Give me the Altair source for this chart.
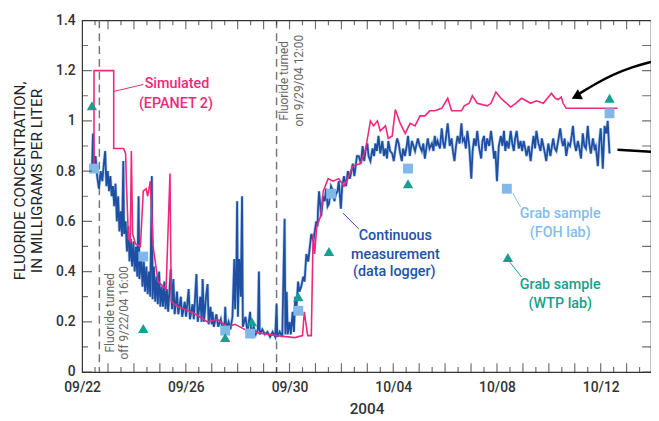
import altair as alt
import pandas as pd

FONT = "Roboto"

# ---- data (days since 2004-09-22 00:00, fluoride mg/L) ----
cont_day = [0.38,0.42,0.46,0.52,0.58,0.65,0.72,0.78,0.84,0.89,0.94,0.99,1.04,1.09,1.14,1.19,1.24,1.29,1.34,1.39,1.44,1.49,1.54,1.59,1.62,1.68,1.73,1.78,1.83,1.88,1.93,1.98,2.03,2.08,2.13,2.18,2.21,2.28,2.33,2.38,2.43,2.48,2.53,2.58,2.63,2.69,2.72,2.77,2.82,2.87,2.92,2.97,3.02,3.07,3.12,3.17,3.22,3.27,3.32,3.42,3.47,3.52,3.57,3.66,3.71,3.81,3.86,3.96,4.01,4.11,4.16,4.26,4.31,4.41,4.46,4.56,4.61,4.65,4.70,4.78,4.84,4.88,4.95,5.00,5.03,5.08,5.18,5.25,5.35,5.42,5.50,5.52,5.56,5.65,5.72,5.80,5.87,5.90,5.95,5.98,6.01,6.06,6.12,6.17,6.20,6.30,6.38,6.48,6.52,6.62,6.70,6.78,6.82,6.85,6.95,7.05,7.15,7.25,7.35,7.45,7.50,7.53,7.62,7.72,7.81,7.84,7.89,7.93,8.00,8.05,8.12,8.17,8.22,8.27,8.33,8.38,8.45,8.53,8.58,8.65,8.72,8.84,8.92,9.03,9.08,9.10,9.14,9.22,9.30,9.36,9.41,9.47,9.52,9.60,9.68,9.73,9.79,9.85,9.90,9.98,10.03,10.10,10.18,10.25,10.33,10.44,10.50,10.55,10.60,10.67,10.75,10.82,10.88,10.93,11.00,11.05,11.12,11.20,11.26,11.31,11.37,11.43,11.50,11.58,11.64,11.70,11.76,11.81,11.88,11.96,12.02,12.10,12.15,12.21,12.27,12.33,12.38,12.45,12.52,12.57,12.64,12.72,12.78,12.84,12.95,13.02,13.10,13.16,13.22,13.33,13.40,13.49,13.55,13.60,13.66,13.71,13.80,13.87,13.93,13.98,14.04,14.10,14.18,14.25,14.30,14.36,14.42,14.48,14.56,14.63,14.68,14.74,14.80,14.86,14.93,15.01,15.06,15.12,15.18,15.24,15.30,15.39,15.44,15.50,15.56,15.62,15.70,15.77,15.83,15.89,15.94,16.00,16.07,16.15,16.21,16.27,16.32,16.38,16.45,16.53,16.59,16.65,16.70,16.76,16.84,16.91,16.97,17.03,17.09,17.14,17.22,17.30,17.36,17.41,17.47,17.52,17.60,17.68,17.73,17.79,17.85,17.90,17.98,18.06,18.12,18.17,18.23,18.29,18.36,18.44,18.50,18.55,18.61,18.67,18.75,18.82,18.88,18.93,18.99,19.05,19.12,19.18,19.24,19.31,19.37,19.43,19.50,19.56,19.62,19.70,19.76,19.81,19.89,19.95,20.00,20.04,20.08,20.15,20.22,20.27,20.34]
cont_val = [0.80,0.95,0.82,0.86,0.78,0.73,0.80,0.76,0.83,0.88,0.74,0.80,0.72,0.78,0.70,0.74,0.66,0.75,0.60,0.70,0.56,0.64,0.54,0.84,0.55,0.60,0.48,0.58,0.44,0.53,0.42,0.52,0.40,0.50,0.38,0.70,0.37,0.46,0.34,0.44,0.32,0.42,0.31,0.40,0.30,0.78,0.29,0.42,0.28,0.38,0.27,0.40,0.26,0.34,0.26,0.36,0.25,0.33,0.24,0.41,0.25,0.37,0.23,0.32,0.23,0.30,0.22,0.28,0.22,0.33,0.21,0.27,0.21,0.39,0.20,0.30,0.20,0.37,0.20,0.30,0.35,0.19,0.26,0.19,0.24,0.18,0.23,0.18,0.21,0.17,0.20,0.26,0.17,0.20,0.17,0.22,0.45,0.25,0.40,0.68,0.22,0.45,0.30,0.70,0.18,0.22,0.16,0.24,0.16,0.18,0.15,0.17,0.40,0.15,0.17,0.15,0.16,0.14,0.16,0.14,0.27,0.14,0.16,0.14,0.61,0.15,0.32,0.15,0.20,0.15,0.24,0.16,0.30,0.26,0.36,0.32,0.34,0.38,0.36,0.47,0.44,0.55,0.52,0.60,0.58,0.65,0.72,0.62,0.70,0.68,0.73,0.66,0.67,0.74,0.72,0.68,0.71,0.72,0.76,0.65,0.74,0.78,0.74,0.80,0.77,0.83,0.78,0.82,0.86,0.86,0.83,0.90,0.84,0.88,0.91,0.86,0.84,0.89,0.86,0.91,0.88,0.94,0.87,0.92,0.86,0.89,0.85,0.92,0.88,0.87,0.84,0.90,0.93,0.91,0.87,0.84,0.89,0.86,0.90,0.94,0.86,0.92,0.90,0.88,0.93,0.90,0.88,0.91,0.85,0.93,0.89,0.91,0.88,0.94,0.90,0.92,0.89,0.97,0.91,0.89,0.94,0.99,0.90,0.93,0.88,0.84,0.90,0.94,0.91,0.99,0.92,0.93,0.89,0.96,0.90,0.77,0.88,0.93,0.90,0.96,0.90,0.85,0.92,0.94,0.88,0.93,0.90,0.96,0.91,0.85,0.88,0.76,0.90,0.94,0.90,0.96,0.88,0.92,0.89,0.96,0.91,0.88,0.93,0.96,0.89,0.92,0.88,0.92,0.89,0.86,0.90,0.84,0.90,0.94,0.89,0.96,0.91,0.88,0.93,0.90,0.87,0.84,0.91,0.86,0.90,0.93,0.89,0.88,0.92,0.97,0.92,0.90,0.93,0.86,0.91,0.90,0.94,0.98,0.91,0.88,0.92,0.89,0.85,0.95,0.90,0.89,0.98,0.91,0.87,0.93,0.89,0.90,0.82,0.92,0.97,0.90,0.81,0.98,0.95,1.00,0.87]

sim_day = [0.46,0.46,1.22,1.22,1.60,1.68,1.71,1.79,1.86,1.90,1.95,2.06,2.25,2.36,2.47,2.53,2.63,2.74,2.93,3.24,3.39,3.44,3.70,4.08,4.46,4.84,5.22,5.60,5.90,6.36,7.00,7.50,8.20,8.50,8.57,8.70,8.84,8.91,8.97,9.05,9.20,9.30,9.49,9.68,9.90,10.10,10.25,10.44,10.74,10.93,11.12,11.24,11.39,11.50,11.70,11.81,11.96,12.08,12.27,12.46,12.65,12.84,13.03,13.22,13.41,13.60,13.87,14.10,14.25,14.63,14.74,14.93,15.05,15.24,15.62,15.77,15.96,16.15,16.53,16.72,16.95,17.30,17.52,17.79,18.10,18.25,18.36,18.48,18.55,18.67,20.65]
sim_val = [0.82,1.20,1.20,0.89,0.89,0.87,0.75,0.53,0.52,0.88,0.55,0.51,0.50,0.72,0.73,0.70,0.76,0.50,0.36,0.33,0.79,0.28,0.26,0.245,0.225,0.20,0.21,0.18,0.19,0.165,0.153,0.145,0.137,0.145,0.24,0.145,0.145,0.55,0.47,0.58,0.62,0.72,0.77,0.76,0.77,0.74,0.77,0.82,0.83,0.885,1.00,0.98,1.00,0.96,0.98,0.93,0.94,1.045,0.99,0.95,0.99,0.98,1.02,1.02,1.04,1.04,1.05,1.09,1.04,1.04,1.06,1.07,1.10,1.07,1.06,1.07,1.115,1.09,1.055,1.07,1.09,1.07,1.08,1.07,1.11,1.09,1.085,1.095,1.07,1.05,1.05]

foh_day = [0.46, 2.36, 5.52, 6.48, 8.34, 9.60, 12.57, 16.38, 20.34]
foh_val = [0.81, 0.46, 0.165, 0.153, 0.244, 0.71, 0.81, 0.73, 1.03]
wtp_day = [0.38, 2.36, 5.52, 6.55, 8.34, 9.52, 12.57, 16.42, 20.34]
wtp_val = [1.06, 0.173, 0.137, 0.20, 0.30, 0.48, 0.75, 0.456, 1.09]

event_day = [0.667, 7.5]   # 9/22/04 16:00 off, 9/29/04 12:00 on

x_label_days = [0, 4, 8, 12, 16, 20]
x_labels = ["09/22", "09/26", "09/30", "10/04", "10/08", "10/12"]
y_ticks = [0, 0.2, 0.4, 0.6, 0.8, 1, 1.2, 1.4]

X_MAX = 21.94
Y_MAX = 1.4

BLUE = "#1e4fa3"
PINK = "#f0287c"
LBLUE = "#80b8e8"
TEAL = "#17a08f"
AX = "#333333"
W = 500

xscale = alt.Scale(domain=[0, X_MAX], nice=False, zero=False)
yscale = alt.Scale(domain=[0, Y_MAX], nice=False, zero=False)

label_expr = "[" + ",".join("'%s'" % l for l in x_labels) + "][round(datum.value/4)]"

xaxis = alt.Axis(values=x_label_days, labelExpr=label_expr, title="2004", grid=False,
                 ticks=False, tickSize=0, domain=False, labelFlush=False, labelOverlap=False,
                 labelFont=FONT, labelFontSize=14, labelFontWeight=W, labelColor=AX,
                 labelPadding=9,
                 titleFont=FONT, titleFontSize=15.5, titleFontWeight=W,
                 titleColor=AX, titlePadding=7)
yaxis = alt.Axis(values=y_ticks, format="~g", grid=False, ticks=False, tickSize=0,
                 domain=False, labelFont=FONT, labelFontSize=14, labelFontWeight=W,
                 labelColor=AX, labelPadding=7,
                 title=["FLUORIDE CONCENTRATION,", "IN MILLIGRAMS PER LITER"],
                 titleFont=FONT, titleFontSize=15.5, titleFontWeight="normal",
                 titleColor="#222222", titleAngle=270, titleBaseline="alphabetic",
                 titleAlign="center", titleX=-58, titleY=162, titleLineHeight=17)


def X(f="d"):
    return alt.X(f, type="quantitative", scale=xscale, axis=xaxis)


def Y(f="v"):
    return alt.Y(f, type="quantitative", scale=yscale, axis=yaxis)


cont_df = pd.DataFrame({"d": cont_day, "v": cont_val, "i": range(len(cont_day))})
sim_df = pd.DataFrame({"d": sim_day, "v": sim_val, "i": range(len(sim_day))})
foh_df = pd.DataFrame({"d": foh_day, "v": foh_val})
wtp_df = pd.DataFrame({"d": wtp_day, "v": wtp_val})
event_df = pd.DataFrame({"d": event_day})

notes_df = pd.DataFrame({
    "d": [3.66, 3.62, 12.08, 12.08, 12.04, 18.44, 18.44, 18.44, 18.44],
    "v": [1.148, 1.066, 0.543, 0.464, 0.397, 0.629, 0.555, 0.346, 0.271],
    "t": ["Simulated", "(EPANET 2)", "Continuous", "measurement", "(data logger)",
          "Grab sample", "(FOH lab)", "Grab sample", "(WTP lab)"],
    "c": [PINK, PINK, "#2152a8", "#2152a8", "#2152a8", "#86bce8", "#86bce8", TEAL, TEAL],
})
event_txt_df = pd.DataFrame({
    "d": [1.07, 1.60, 7.79, 8.38],
    "v": [0.236, 0.236, 1.16, 1.16],
    "t": ["Fluoride turned", "off 9/22/04 16:00", "Fluoride turned", "on 9/29/04 12:00"],
})
leader_df = pd.DataFrame({
    "d": [1.22, 10.06, 16.61, 16.50],
    "v": [1.117, 0.633, 0.712, 0.437],
    "d2": [2.36, 10.67, 16.91, 16.95],
    "v2": [1.145, 0.570, 0.657, 0.378],
    "c": [PINK, "#2152a8", "#86bce8", TEAL],
})
arrow_df = pd.DataFrame({"d": [21.94, 21.22, 20.46, 19.81, 19.31, 19.05],
                         "v": [1.235, 1.215, 1.184, 1.148, 1.117, 1.100],
                         "i": range(6)})
head_df = pd.DataFrame({"d": [19.05], "v": [1.097]})
bar_df = pd.DataFrame({"d": [20.65, 21.94], "v": [0.885, 0.877], "i": [0, 1]})

# frame ticks (inward)
xt = [i * 0.5 for i in range(int(X_MAX * 2) + 1)]
xticks_df = pd.DataFrame({
    "d": xt + xt,
    "v": [0.0] * len(xt) + [Y_MAX] * len(xt),
    "len": [18 if t % 1 == 0 else 10 for t in xt] * 2,
})
yt = [round(i * 0.1, 1) for i in range(15)]
yticks_df = pd.DataFrame({
    "d": [0.0] * len(yt) + [X_MAX] * len(yt),
    "v": yt + yt,
    "len": [20 if round(t * 10) % 2 == 0 else 12 for t in yt] + [18] * len(yt),
})

layers = []
layers.append(alt.Chart(event_df).mark_rule(color="#777777", strokeWidth=1.5,
                                            strokeDash=[8, 5]).encode(x=X()))
layers.append(alt.Chart(cont_df).mark_line(color="#8fb4e0", strokeWidth=3.2, opacity=0.6)
              .encode(x=X(), y=Y(), order="i:Q"))
layers.append(alt.Chart(cont_df).mark_line(color=BLUE, strokeWidth=1.8)
              .encode(x=X(), y=Y(), order="i:Q"))
layers.append(alt.Chart(sim_df).mark_line(color=PINK, strokeWidth=1.6)
              .encode(x=X(), y=Y(), order="i:Q"))
layers.append(alt.Chart(leader_df).mark_rule(strokeWidth=1)
              .encode(x=X(), y=Y(), x2="d2", y2="v2", color=alt.Color("c:N", scale=None)))
layers.append(alt.Chart(foh_df).mark_point(shape="square", filled=True, size=100,
                                           color=LBLUE, opacity=1).encode(x=X(), y=Y()))
layers.append(alt.Chart(wtp_df).mark_point(shape="triangle-up", filled=True, size=110,
                                           color=TEAL, opacity=1).encode(x=X(), y=Y()))
layers.append(alt.Chart(notes_df).mark_text(font=FONT, fontSize=14.5, fontWeight=W,
                                            align="center", baseline="middle")
              .encode(x=X(), y=Y(), text="t:N", color=alt.Color("c:N", scale=None)))
layers.append(alt.Chart(event_txt_df).mark_text(font=FONT, fontSize=12, angle=270,
                                                align="center", baseline="middle",
                                                color="#666666")
              .encode(x=X(), y=Y(), text="t:N"))
layers.append(alt.Chart(arrow_df).mark_line(color="black", strokeWidth=2.5,
                                            interpolate="basis", clip=True)
              .encode(x=X(), y=Y(), order="i:Q"))
layers.append(alt.Chart(head_df).mark_point(shape="triangle-up", filled=True, size=130,
                                            angle=243, color="black", opacity=1)
              .encode(x=X(), y=Y()))
layers.append(alt.Chart(bar_df).mark_line(color="black", strokeWidth=2.5, clip=True)
              .encode(x=X(), y=Y(), order="i:Q"))
layers.append(alt.Chart(xticks_df).mark_tick(orient="vertical", clip=True, color=AX,
                                             thickness=1.2)
              .encode(x=X(), y=Y(), size=alt.Size("len:Q", scale=None)))
layers.append(alt.Chart(yticks_df).mark_tick(orient="horizontal", clip=True, color=AX,
                                             thickness=1.2)
              .encode(x=X(), y=Y(), size=alt.Size("len:Q", scale=None)))

chart = alt.layer(*layers).properties(
    width=576, height=356,
    padding={"left": 75, "top": 10, "right": 0, "bottom": 47},
    autosize="none",
    background="white",
).configure_view(stroke=AX, strokeWidth=1.2)

chart.save("out.html", embed_options={"renderer": "svg", "actions": False})
